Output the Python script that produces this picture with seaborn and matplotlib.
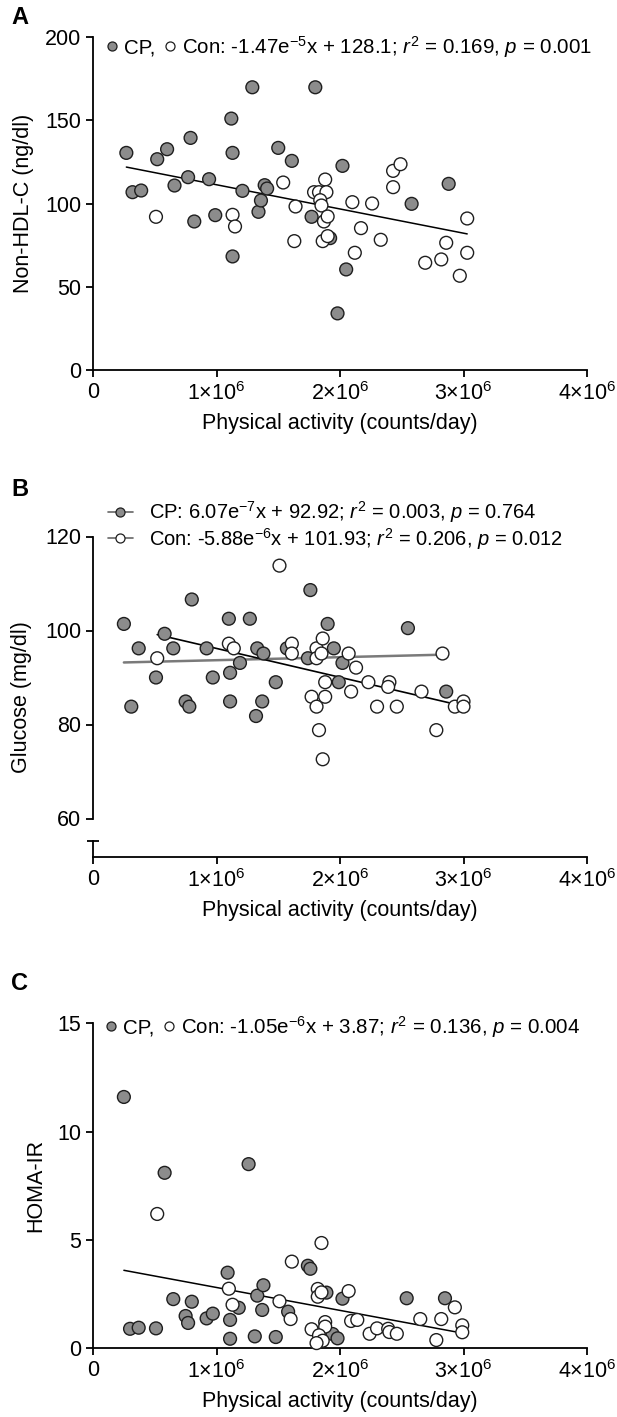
import matplotlib
matplotlib.use("Agg")
import matplotlib.pyplot as plt
from matplotlib.lines import Line2D
import seaborn as sns
import numpy as np
import pandas as pd

# physical activity in 10^6 counts/day
# panel A: non-HDL-C (ng/dl)
a_cp_pa = [0.27, 0.32, 0.39, 0.52, 0.60, 0.66, 0.77, 0.79, 0.82, 0.94,
           0.99, 1.12, 1.13, 1.13, 1.21, 1.29, 1.34, 1.36, 1.39, 1.41,
           1.50, 1.61, 1.77, 1.80, 1.92, 1.98, 2.02, 2.05, 2.58, 2.88]
a_cp_val = [130.4, 106.8, 107.8, 126.6, 132.6, 110.8, 115.8, 139.4, 89.2, 114.6,
            93.0, 151.0, 130.4, 68.2, 107.6, 169.8, 95.0, 101.8, 111.0, 109.0,
            133.4, 125.6, 92.0, 169.8, 79.2, 34.0, 122.6, 60.4, 99.8, 111.8]
a_con_pa = [0.51, 1.13, 1.15, 1.54, 1.64, 1.63, 1.79, 1.83, 1.88, 1.89,
            1.84, 1.85, 1.87, 1.90, 1.86, 1.90, 2.10, 2.17, 2.12, 2.26,
            2.33, 2.43, 2.49, 2.43, 2.69, 2.82, 2.86, 2.97, 3.03, 3.03]
a_con_val = [92.0, 93.2, 86.2, 112.6, 98.2, 77.4, 106.8, 106.8, 114.4, 106.8,
             102.0, 98.8, 89.2, 92.2, 77.4, 80.4, 100.8, 85.2, 70.4, 100.0,
             78.2, 119.6, 123.6, 109.8, 64.4, 66.4, 76.4, 56.6, 91.0, 70.4]

# panel B: glucose (mg/dl)
b_cp_pa = [0.25, 0.31, 0.37, 0.51, 0.58, 0.65, 0.75, 0.78, 0.80, 0.92,
           0.97, 1.10, 1.11, 1.11, 1.19, 1.27, 1.32, 1.33, 1.37, 1.38,
           1.48, 1.57, 1.74, 1.76, 1.90, 1.95, 1.99, 2.02, 2.55, 2.86]
b_cp_val = [101.4, 83.8, 96.2, 90.0, 99.3, 96.2, 84.9, 83.8, 106.6, 96.2,
            90.0, 102.5, 91.0, 84.9, 93.1, 102.5, 81.8, 96.2, 84.9, 95.1,
            89.0, 96.2, 94.1, 108.6, 101.4, 96.2, 89.0, 93.1, 100.5, 87.0]
b_con_pa = [0.52, 1.10, 1.14, 1.51, 1.61, 1.61, 1.77, 1.81, 1.81, 1.81,
            1.83, 1.86, 1.85, 1.86, 1.88, 1.88, 2.07, 2.09, 2.13, 2.23,
            2.30, 2.40, 2.39, 2.46, 2.66, 2.78, 2.83, 2.93, 3.00, 3.00]
b_con_val = [94.1, 97.2, 96.2, 113.8, 97.2, 95.1, 85.9, 96.2, 94.1, 83.8,
             78.8, 98.3, 95.1, 72.6, 89.0, 85.9, 95.1, 87.0, 92.1, 89.0,
             83.8, 89.0, 88.0, 83.8, 87.0, 78.8, 95.1, 83.8, 84.9, 83.8]

# panel C: HOMA-IR
c_cp_pa = [0.25, 0.30, 0.37, 0.51, 0.58, 0.65, 0.75, 0.77, 0.80, 0.92,
           0.97, 1.09, 1.11, 1.11, 1.18, 1.26, 1.31, 1.33, 1.37, 1.38,
           1.48, 1.58, 1.74, 1.76, 1.89, 1.94, 1.98, 2.02, 2.54, 2.85]
c_cp_val = [11.6, 0.90, 0.95, 0.92, 8.10, 2.27, 1.49, 1.17, 2.15, 1.38,
            1.60, 3.49, 1.31, 0.44, 1.87, 8.50, 0.55, 2.43, 1.77, 2.91,
            0.52, 1.69, 3.81, 3.67, 2.57, 0.66, 0.46, 2.29, 2.31, 2.31]
c_con_pa = [0.52, 1.10, 1.13, 1.51, 1.61, 1.60, 1.77, 1.82, 1.82, 1.85,
            1.85, 1.88, 1.88, 1.83, 1.86, 1.81, 2.07, 2.09, 2.14, 2.24,
            2.30, 2.39, 2.40, 2.46, 2.65, 2.78, 2.82, 2.93, 2.99, 2.99]
c_con_val = [6.20, 2.75, 2.01, 2.17, 4.00, 1.35, 0.88, 2.74, 2.38, 2.58,
             4.86, 1.21, 1.00, 0.60, 0.35, 0.24, 2.64, 1.26, 1.31, 0.67,
             0.92, 0.90, 0.75, 0.67, 1.35, 0.38, 1.35, 1.89, 1.06, 0.74]

x_ticks = [0, 1, 2, 3, 4]
x_ticklabels = ["0", "1×10$^{6}$", "2×10$^{6}$", "3×10$^{6}$", "4×10$^{6}$"]

leg_a = "Con: -1.47e$^{-5}$x + 128.1; $r^{2}$ = 0.169, $p$ = 0.001"
leg_b_cp = "CP: 6.07e$^{-7}$x + 92.92; $r^{2}$ = 0.003, $p$ = 0.764"
leg_b_con = "Con: -5.88e$^{-6}$x + 101.93; $r^{2}$ = 0.206, $p$ = 0.012"
leg_c = "Con: -1.05e$^{-6}$x + 3.87; $r^{2}$ = 0.136, $p$ = 0.004"


def make_df(cp_pa, cp_val, con_pa, con_val):
    df = pd.DataFrame({
        "pa": np.r_[cp_pa, con_pa] * 1e6,
        "val": np.r_[cp_val, con_val],
        "group": ["CP"] * len(cp_pa) + ["Con"] * len(con_pa),
    })
    return df


sns.set_theme(style="ticks")
plt.rcParams["font.family"] = ["Liberation Sans", "DejaVu Sans"]
plt.rcParams["mathtext.fontset"] = "custom"
plt.rcParams["mathtext.rm"] = "Liberation Sans"
plt.rcParams["mathtext.it"] = "Liberation Sans:italic"
plt.rcParams["axes.linewidth"] = 1.3
plt.rcParams["xtick.major.width"] = 1.3
plt.rcParams["ytick.major.width"] = 1.3
plt.rcParams["xtick.major.size"] = 5
plt.rcParams["ytick.major.size"] = 5
for key in ["axes.edgecolor", "text.color", "axes.labelcolor", "xtick.color", "ytick.color"]:
    plt.rcParams[key] = "black"

FS = 15.5
FS_LEG = 14.8
FS_LEG_B = 14.5
GRAY = "#8c8c8c"
EDGE = "#1e1e1e"
pal = {"CP": GRAY, "Con": "white"}

W, H = 617, 1417
fig = plt.figure(figsize=(W / 100, H / 100), dpi=100)


def px_axes(left, top, right, bottom):
    return fig.add_axes([left / W, 1 - bottom / H, (right - left) / W, (bottom - top) / H])


def style_x(ax):
    ax.set_xlim(0, 4e6)
    ax.set_xticks([t * 1e6 for t in x_ticks])
    ax.set_xticklabels(x_ticklabels, fontsize=FS)
    ax.set_xlabel("Physical activity (counts/day)", fontsize=FS, labelpad=6)


def scatter(ax, df):
    sns.scatterplot(data=df, x="pa", y="val", hue="group", palette=pal,
                    edgecolor=EDGE, linewidth=1.0, s=85, legend=False,
                    ax=ax, zorder=3, clip_on=False)


# ---- Panel A
axA = px_axes(93, 37, 587, 370)
dfA = make_df(a_cp_pa, a_cp_val, a_con_pa, a_con_val)
sns.regplot(data=dfA, x="pa", y="val", scatter=False, ci=None, color="black",
            line_kws={"lw": 1.1}, ax=axA)
scatter(axA, dfA)
axA.set_ylim(0, 200)
axA.set_yticks([0, 50, 100, 150, 200])
axA.tick_params(labelsize=FS)
style_x(axA)
axA.set_ylabel("Non-HDL-C (ng/dl)", fontsize=FS, labelpad=8)
sns.despine(ax=axA)
hA = [Line2D([], [], ls="", marker="o", ms=6.5, mfc=GRAY, mec=EDGE, mew=0.9),
      Line2D([], [], ls="", marker="o", ms=6.5, mfc="white", mec=EDGE, mew=0.9)]
axA.legend(hA, ["CP,", leg_a], ncol=2, loc="center left", bbox_to_anchor=(0.028, 0.971),
           frameon=False, fontsize=FS_LEG, handlelength=0.5, handletextpad=0.35,
           columnspacing=0.45, borderpad=0, borderaxespad=0)

# ---- Panel B (broken y axis)
axB = px_axes(93, 536.5, 587, 818.5)
axB2 = px_axes(93, 841, 587, 857)
dfB = make_df(b_cp_pa, b_cp_val, b_con_pa, b_con_val)
sns.regplot(data=dfB[dfB.group == "CP"], x="pa", y="val", scatter=False, ci=None,
            color="#7a7a7a", line_kws={"lw": 1.8}, ax=axB)
sns.regplot(data=dfB[dfB.group == "Con"], x="pa", y="val", scatter=False, ci=None,
            color="black", line_kws={"lw": 1.2}, ax=axB)
scatter(axB, dfB)
axB.set_ylim(60, 120)
axB.set_yticks([60, 80, 100, 120])
axB.set_xlim(0, 4e6)
axB.tick_params(labelsize=FS, bottom=False, labelbottom=False)
axB.set_xlabel("")
axB.set_ylabel("")
sns.despine(ax=axB, bottom=True)
axB2.set_ylim(0, 1)
axB2.set_yticks([1])
axB2.set_yticklabels([])
axB2.tick_params(axis="y", direction="inout", length=9)
axB2.tick_params(axis="x", labelsize=FS)
style_x(axB2)
sns.despine(ax=axB2)
fig.text(22 / W, 1 - 697 / H, "Glucose (mg/dl)", rotation=90, fontsize=FS,
         ha="center", va="center")
hB = [Line2D([], [], color="#666666", lw=1.2, marker="o", ms=6.5, mfc=GRAY, mec=EDGE, mew=0.9),
      Line2D([], [], color="#666666", lw=1.2, marker="o", ms=6.5, mfc="white", mec=EDGE, mew=0.9)]
axB.legend(hB, [leg_b_cp, leg_b_con], loc="center left", bbox_to_anchor=(0.03, 1.039),
           frameon=False, fontsize=FS_LEG_B, handlelength=1.25, handletextpad=0.8,
           labelspacing=0.02, borderpad=0, borderaxespad=0)

# ---- Panel C
axC = px_axes(93, 1023.3, 587, 1348.3)
dfC = make_df(c_cp_pa, c_cp_val, c_con_pa, c_con_val)
sns.regplot(data=dfC, x="pa", y="val", scatter=False, ci=None, color="black",
            line_kws={"lw": 1.1}, ax=axC)
scatter(axC, dfC)
axC.set_ylim(0, 15)
axC.set_yticks([0, 5, 10, 15])
axC.tick_params(labelsize=FS)
style_x(axC)
axC.set_ylabel("HOMA-IR", fontsize=FS, labelpad=8)
sns.despine(ax=axC)
axC.legend(hA, ["CP,", leg_c], ncol=2, loc="center left", bbox_to_anchor=(0.026, 0.99),
           frameon=False, fontsize=FS_LEG, handlelength=0.5, handletextpad=0.35,
           columnspacing=0.45, borderpad=0, borderaxespad=0)

# panel letters
for letter, ypx in [("A", 18), ("B", 490), ("C", 983)]:
    fig.text(20 / W, 1 - ypx / H, letter, fontsize=17, fontweight="bold",
             ha="center", va="center")

fig.savefig("out.png", dpi=100)
